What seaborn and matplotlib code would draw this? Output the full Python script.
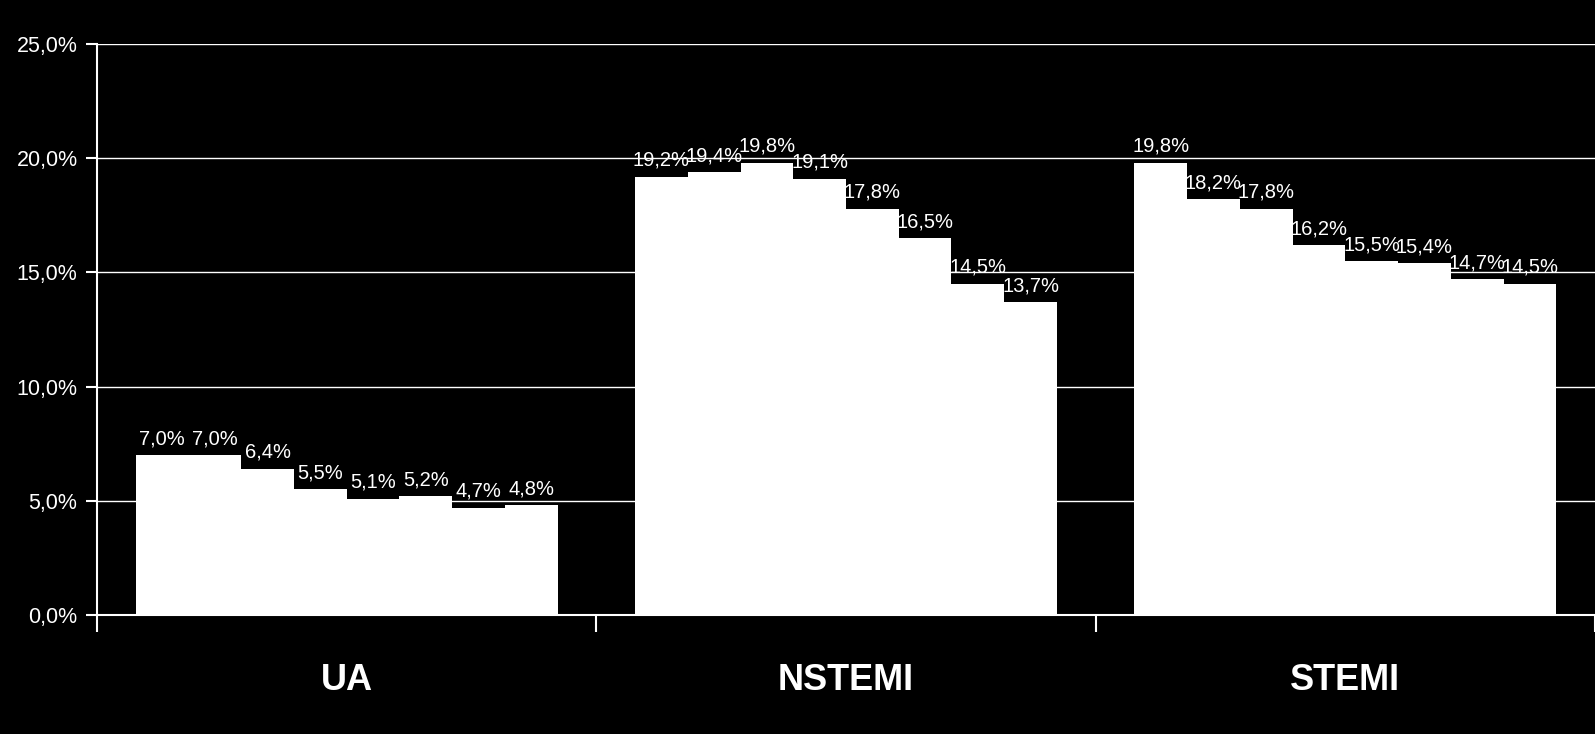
import matplotlib
matplotlib.use('Agg')
import matplotlib.pyplot as plt
import seaborn as sns
import pandas as pd
from matplotlib import font_manager

# ── Data ──────────────────────────────────────────────────
categories = ['UA', 'NSTEMI', 'STEMI']
series = ['S1', 'S2', 'S3', 'S4', 'S5', 'S6', 'S7', 'S8']
ua_vals     = [7.0, 7.0, 6.4, 5.5, 5.1, 5.2, 4.7, 4.8]
nstemi_vals = [19.2, 19.4, 19.8, 19.1, 17.8, 16.5, 14.5, 13.7]
stemi_vals  = [19.8, 18.2, 17.8, 16.2, 15.5, 15.4, 14.7, 14.5]
y_ticks = [0, 5, 10, 15, 20, 25]

rows = []
for cat, vals in zip(categories, [ua_vals, nstemi_vals, stemi_vals]):
    for s, v in zip(series, vals):
        rows.append({'group': cat, 'series': s, 'value': v})
df = pd.DataFrame(rows)

# ── Style ─────────────────────────────────────────────────
sns.set_style('dark')
names = {f.name for f in font_manager.fontManager.ttflist}
fam = [f for f in ['Liberation Sans Narrow', 'Liberation Sans', 'DejaVu Sans'] if f in names]
plt.rcParams['font.family'] = fam

fig = plt.figure(figsize=(15.95, 7.34), dpi=100, facecolor='black')
ax = fig.add_axes([0.0608, 0.162, 0.9392, 0.778])
ax.set_facecolor('black')

sns.barplot(data=df, x='group', y='value', hue='series', order=categories,
            hue_order=series, palette=['white'] * len(series),
            width=0.845, gap=0, linewidth=0, saturation=1,
            legend=False, ax=ax)

# value labels
for i, cont in enumerate(ax.containers):
    labels = [f'{v:.1f}%'.replace('.', ',') for v in cont.datavalues]
    ax.bar_label(cont, labels=labels, padding=5, color='white', fontsize=14.5)

# ── Axes ──────────────────────────────────────────────────
ax.set_ylim(0, 25)
ax.set_xlim(-0.5, 2.5)
ax.set_yticks(y_ticks)
ax.set_yticklabels([f'{t:.1f}%'.replace('.', ',') for t in y_ticks],
                   color='white', fontsize=15.5)
ax.grid(axis='y', color='white', linewidth=1)
ax.grid(axis='x', visible=False)
ax.set_axisbelow(True)

ax.set_xticks([-0.5, 0.5, 1.5, 2.5])
ax.set_xticklabels([])
ax.tick_params(axis='x', bottom=True, length=12, width=1.5, color='white', direction='out')
ax.tick_params(axis='y', left=True, length=8, width=1.5, color='white', direction='out', pad=6)
for i, c in enumerate(categories):
    ax.text(i, -0.115, c, transform=ax.get_xaxis_transform(), ha='center',
            va='center', color='white', fontsize=26, fontweight='bold')

ax.set_xlabel('')
ax.set_ylabel('')
for side in ['top', 'right']:
    ax.spines[side].set_visible(False)
for side in ['left', 'bottom']:
    ax.spines[side].set_visible(True)
    ax.spines[side].set_color('white')
    ax.spines[side].set_linewidth(1.5)

fig.savefig('out.png', dpi=100, facecolor='black')
